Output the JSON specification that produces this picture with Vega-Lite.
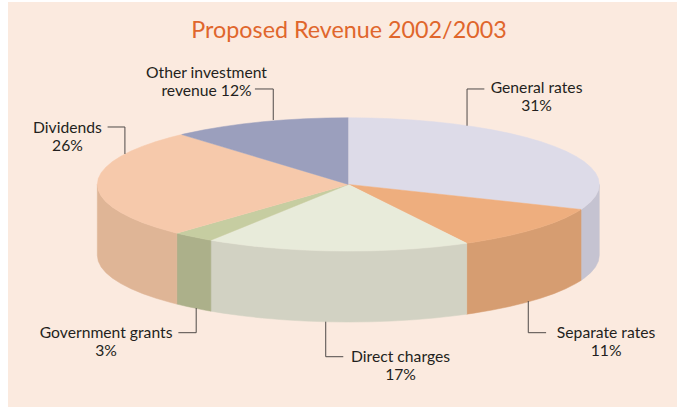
{"$schema":"https://vega.github.io/schema/vega-lite/v6.json","width":669,"height":405,"padding":{"left":8,"top":2,"right":0,"bottom":0},"autosize":{"type":"none"},"background":"#ffffff","view":{"fill":"#fbeadf","stroke":null},
"title":{"text":"Proposed Revenue 2002/2003","font":"Lato","fontSize":23.3,"fontWeight":"normal","color":"#e0662c","anchor":"middle","frame":"group","baseline":"alphabetic","offset":-37,"dx":6.5,"dy":22},
"encoding":{"x":{"field":"x","type":"quantitative","scale":{"domain":[-135.58,130.95],"nice":false,"zero":false},"axis":null},"y":{"field":"y","type":"quantitative","scale":{"domain":[-333.7,273.5],"nice":false,"zero":false},"axis":null}},
"layer":[
{"data":{"values":[
{"p":"General rates wall","x":100,"y":0,"b":-106.4},{"p":"General rates wall","x":99.62,"y":-8.72,"b":-115.12},{"p":"General rates wall","x":98.48,"y":-17.36,"b":-123.76},{"p":"General rates wall","x":96.59,"y":-25.88,"b":-132.28},{"p":"General rates wall","x":93.97,"y":-34.2,"b":-140.6},{"p":"General rates wall","x":92.72,"y":-37.46,"b":-143.86},
{"p":"Separate rates wall","x":92.72,"y":-37.46,"b":-143.86},{"p":"Separate rates wall","x":90.63,"y":-42.26,"b":-148.66},{"p":"Separate rates wall","x":86.6,"y":-50,"b":-156.4},{"p":"Separate rates wall","x":81.92,"y":-57.36,"b":-163.76},{"p":"Separate rates wall","x":76.6,"y":-64.28,"b":-170.68},{"p":"Separate rates wall","x":70.71,"y":-70.71,"b":-177.11},{"p":"Separate rates wall","x":64.28,"y":-76.6,"b":-183},{"p":"Separate rates wall","x":57.36,"y":-81.92,"b":-188.32},{"p":"Separate rates wall","x":50,"y":-86.6,"b":-193},{"p":"Separate rates wall","x":47.17,"y":-88.17,"b":-194.57},
{"p":"Direct charges wall","x":47.17,"y":-88.17,"b":-194.57},{"p":"Direct charges wall","x":42.26,"y":-90.63,"b":-197.03},{"p":"Direct charges wall","x":34.2,"y":-93.97,"b":-200.37},{"p":"Direct charges wall","x":25.88,"y":-96.59,"b":-202.99},{"p":"Direct charges wall","x":17.36,"y":-98.48,"b":-204.88},{"p":"Direct charges wall","x":8.72,"y":-99.62,"b":-206.02},{"p":"Direct charges wall","x":0,"y":-100,"b":-206.4},{"p":"Direct charges wall","x":-8.72,"y":-99.62,"b":-206.02},{"p":"Direct charges wall","x":-17.36,"y":-98.48,"b":-204.88},{"p":"Direct charges wall","x":-25.88,"y":-96.59,"b":-202.99},{"p":"Direct charges wall","x":-34.2,"y":-93.97,"b":-200.37},{"p":"Direct charges wall","x":-42.26,"y":-90.63,"b":-197.03},{"p":"Direct charges wall","x":-50,"y":-86.6,"b":-193},{"p":"Direct charges wall","x":-54.75,"y":-83.67,"b":-190.07},
{"p":"Government grants wall","x":-54.75,"y":-83.67,"b":-190.07},{"p":"Government grants wall","x":-57.36,"y":-81.92,"b":-188.32},{"p":"Government grants wall","x":-64.28,"y":-76.6,"b":-183},{"p":"Government grants wall","x":-68.32,"y":-73.03,"b":-179.43},
{"p":"Dividends wall","x":-68.32,"y":-73.03,"b":-179.43},{"p":"Dividends wall","x":-70.71,"y":-70.71,"b":-177.11},{"p":"Dividends wall","x":-76.6,"y":-64.28,"b":-170.68},{"p":"Dividends wall","x":-81.92,"y":-57.36,"b":-163.76},{"p":"Dividends wall","x":-86.6,"y":-50,"b":-156.4},{"p":"Dividends wall","x":-90.63,"y":-42.26,"b":-148.66},{"p":"Dividends wall","x":-93.97,"y":-34.2,"b":-140.6},{"p":"Dividends wall","x":-96.59,"y":-25.88,"b":-132.28},{"p":"Dividends wall","x":-98.48,"y":-17.36,"b":-123.76},{"p":"Dividends wall","x":-99.62,"y":-8.72,"b":-115.12},{"p":"Dividends wall","x":-100,"y":0,"b":-106.4}
]},"mark":{"type":"area","strokeWidth":0.5},"encoding":{"y2":{"field":"b"},
"color":{"field":"p","type":"nominal","legend":null,"scale":{"domain":["General rates wall","Separate rates wall","Direct charges wall","Government grants wall","Dividends wall","General rates","Separate rates","Direct charges","Government grants","Dividends","Other investment revenue"],"range":["#c5c3d1","#d69d71","#d2d2c3","#acb08a","#dfb596","#dddbe8","#eeae7e","#e8ebda","#c6cda1","#f6c9ab","#9b9fbd"]}},
"stroke":{"field":"p","type":"nominal","legend":null,"scale":{"domain":["General rates wall","Separate rates wall","Direct charges wall","Government grants wall","Dividends wall","General rates","Separate rates","Direct charges","Government grants","Dividends","Other investment revenue"],"range":["#c5c3d1","#d69d71","#d2d2c3","#acb08a","#dfb596","#dddbe8","#eeae7e","#e8ebda","#c6cda1","#f6c9ab","#9b9fbd"]}}}},
{"data":{"values":[
{"p":"General rates","x":0,"y":0},{"p":"General rates","x":0,"y":100},{"p":"General rates","x":8.72,"y":99.62},{"p":"General rates","x":17.36,"y":98.48},{"p":"General rates","x":25.88,"y":96.59},{"p":"General rates","x":34.2,"y":93.97},{"p":"General rates","x":42.26,"y":90.63},{"p":"General rates","x":50,"y":86.6},{"p":"General rates","x":57.36,"y":81.92},{"p":"General rates","x":64.28,"y":76.6},{"p":"General rates","x":70.71,"y":70.71},{"p":"General rates","x":76.6,"y":64.28},{"p":"General rates","x":81.92,"y":57.36},{"p":"General rates","x":86.6,"y":50},{"p":"General rates","x":90.63,"y":42.26},{"p":"General rates","x":93.97,"y":34.2},{"p":"General rates","x":96.59,"y":25.88},{"p":"General rates","x":98.48,"y":17.36},{"p":"General rates","x":99.62,"y":8.72},{"p":"General rates","x":100,"y":0},{"p":"General rates","x":99.62,"y":-8.72},{"p":"General rates","x":98.48,"y":-17.36},{"p":"General rates","x":96.59,"y":-25.88},{"p":"General rates","x":93.97,"y":-34.2},{"p":"General rates","x":92.72,"y":-37.46},
{"p":"Separate rates","x":0,"y":0},{"p":"Separate rates","x":92.72,"y":-37.46},{"p":"Separate rates","x":90.63,"y":-42.26},{"p":"Separate rates","x":86.6,"y":-50},{"p":"Separate rates","x":81.92,"y":-57.36},{"p":"Separate rates","x":76.6,"y":-64.28},{"p":"Separate rates","x":70.71,"y":-70.71},{"p":"Separate rates","x":64.28,"y":-76.6},{"p":"Separate rates","x":57.36,"y":-81.92},{"p":"Separate rates","x":50,"y":-86.6},{"p":"Separate rates","x":47.17,"y":-88.17},
{"p":"Direct charges","x":0,"y":0},{"p":"Direct charges","x":47.17,"y":-88.17},{"p":"Direct charges","x":42.26,"y":-90.63},{"p":"Direct charges","x":34.2,"y":-93.97},{"p":"Direct charges","x":25.88,"y":-96.59},{"p":"Direct charges","x":17.36,"y":-98.48},{"p":"Direct charges","x":8.72,"y":-99.62},{"p":"Direct charges","x":0,"y":-100},{"p":"Direct charges","x":-8.72,"y":-99.62},{"p":"Direct charges","x":-17.36,"y":-98.48},{"p":"Direct charges","x":-25.88,"y":-96.59},{"p":"Direct charges","x":-34.2,"y":-93.97},{"p":"Direct charges","x":-42.26,"y":-90.63},{"p":"Direct charges","x":-50,"y":-86.6},{"p":"Direct charges","x":-54.75,"y":-83.67},
{"p":"Government grants","x":0,"y":0},{"p":"Government grants","x":-54.75,"y":-83.67},{"p":"Government grants","x":-57.36,"y":-81.92},{"p":"Government grants","x":-64.28,"y":-76.6},{"p":"Government grants","x":-68.32,"y":-73.03},
{"p":"Dividends","x":0,"y":0},{"p":"Dividends","x":-68.32,"y":-73.03},{"p":"Dividends","x":-70.71,"y":-70.71},{"p":"Dividends","x":-76.6,"y":-64.28},{"p":"Dividends","x":-81.92,"y":-57.36},{"p":"Dividends","x":-86.6,"y":-50},{"p":"Dividends","x":-90.63,"y":-42.26},{"p":"Dividends","x":-93.97,"y":-34.2},{"p":"Dividends","x":-96.59,"y":-25.88},{"p":"Dividends","x":-98.48,"y":-17.36},{"p":"Dividends","x":-99.62,"y":-8.72},{"p":"Dividends","x":-100,"y":0},{"p":"Dividends","x":-99.62,"y":8.72},{"p":"Dividends","x":-98.48,"y":17.36},{"p":"Dividends","x":-96.59,"y":25.88},{"p":"Dividends","x":-93.97,"y":34.2},{"p":"Dividends","x":-90.63,"y":42.26},{"p":"Dividends","x":-86.6,"y":50},{"p":"Dividends","x":-81.92,"y":57.36},{"p":"Dividends","x":-76.6,"y":64.28},{"p":"Dividends","x":-70.71,"y":70.71},{"p":"Dividends","x":-66.38,"y":74.78},
{"p":"Other investment revenue","x":0,"y":0},{"p":"Other investment revenue","x":-66.38,"y":74.78},{"p":"Other investment revenue","x":-64.28,"y":76.6},{"p":"Other investment revenue","x":-57.36,"y":81.92},{"p":"Other investment revenue","x":-50,"y":86.6},{"p":"Other investment revenue","x":-42.26,"y":90.63},{"p":"Other investment revenue","x":-34.2,"y":93.97},{"p":"Other investment revenue","x":-25.88,"y":96.59},{"p":"Other investment revenue","x":-17.36,"y":98.48},{"p":"Other investment revenue","x":-8.72,"y":99.62},{"p":"Other investment revenue","x":0,"y":100}
]},"transform":[{"window":[{"op":"row_number","as":"i"}]}],"mark":{"type":"line","filled":true,"strokeWidth":0.5},"encoding":{"order":{"field":"i","type":"quantitative"},
"color":{"field":"p","type":"nominal","legend":null,"scale":{"domain":["General rates wall","Separate rates wall","Direct charges wall","Government grants wall","Dividends wall","General rates","Separate rates","Direct charges","Government grants","Dividends","Other investment revenue"],"range":["#c5c3d1","#d69d71","#d2d2c3","#acb08a","#dfb596","#dddbe8","#eeae7e","#e8ebda","#c6cda1","#f6c9ab","#9b9fbd"]}},
"stroke":{"field":"p","type":"nominal","legend":null,"scale":{"domain":["General rates wall","Separate rates wall","Direct charges wall","Government grants wall","Dividends wall","General rates","Separate rates","Direct charges","Government grants","Dividends","Other investment revenue"],"range":["#c5c3d1","#d69d71","#d2d2c3","#acb08a","#dfb596","#dddbe8","#eeae7e","#e8ebda","#c6cda1","#f6c9ab","#9b9fbd"]}}}},
{"data":{"values":[
{"p":"Other","x":-37.2,"y":143.1},{"p":"Other","x":-29.9,"y":143.1},{"p":"Other","x":-29.9,"y":96.6},
{"p":"Dividends","x":-95.9,"y":86.1},{"p":"Dividends","x":-89,"y":86.1},{"p":"Dividends","x":-89,"y":45.6},
{"p":"General","x":47.3,"y":88},{"p":"General","x":47.3,"y":143.1},{"p":"General","x":54.2,"y":143.1},
{"p":"Government","x":-60.6,"y":-185.3},{"p":"Government","x":-60.6,"y":-222.3},{"p":"Government","x":-67.7,"y":-222.3},
{"p":"Direct","x":-9,"y":-205.8},{"p":"Direct","x":-9,"y":-258.3},{"p":"Direct","x":-2,"y":-258.3},
{"p":"Separate","x":71.7,"y":-174.8},{"p":"Separate","x":71.7,"y":-222.3},{"p":"Separate","x":78.8,"y":-222.3}
]},"transform":[{"window":[{"op":"row_number","as":"i"}]}],"mark":{"type":"line","color":"#4f4a48","strokeWidth":1,"strokeJoin":"miter"},"encoding":{"order":{"field":"i","type":"quantitative"},"detail":{"field":"p","type":"nominal"}}},
{"data":{"values":[
{"t":"Other investment","x":-56.5,"y":159.5},{"t":"revenue 12%","x":-56.5,"y":132.5},
{"t":"Dividends","x":-111.9,"y":77.1},{"t":"26%","x":-111.9,"y":50.1},
{"t":"General rates","x":75,"y":137},{"t":"31%","x":75,"y":110},
{"t":"Government grants","x":-96.5,"y":-230.3},{"t":"3%","x":-96.5,"y":-257.3},
{"t":"Direct charges","x":20.8,"y":-266.3},{"t":"17%","x":20.8,"y":-292.5},
{"t":"Separate rates","x":102.7,"y":-230.3},{"t":"11%","x":102.7,"y":-257.3}
]},"mark":{"type":"text","font":"Lato","fontSize":15.7,"color":"#231f20","align":"center","baseline":"alphabetic"},"encoding":{"text":{"field":"t","type":"nominal"}}}
]}
